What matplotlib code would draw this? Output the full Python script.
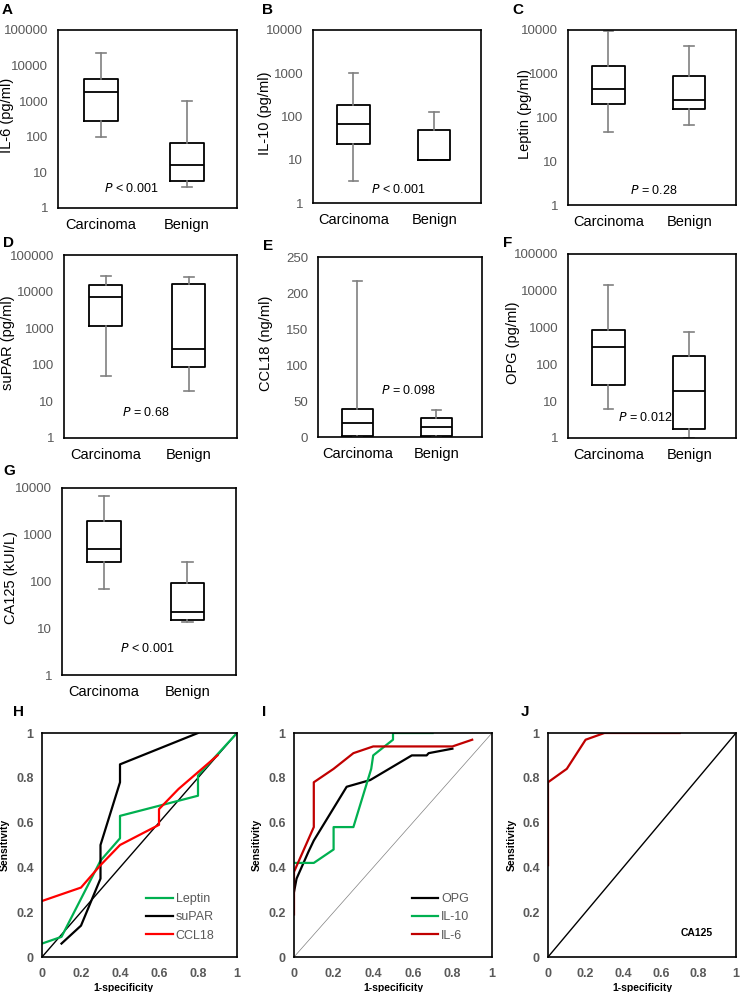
import matplotlib
matplotlib.use("Agg")
import matplotlib.pyplot as plt
from matplotlib.ticker import FixedLocator, FixedFormatter

plt.rcParams['font.family'] = ['Liberation Sans', 'DejaVu Sans']

W, H = 740, 992
GRAY = '#595959'

groups = ['Carcinoma', 'Benign']

# box plot summaries: (whisker low, q1, median, q3, whisker high) per group
il6 = [(100, 280, 1800, 4200, 22000), (3.8, 5.8, 16, 65, 1000)]
il10 = [(3.3, 23, 66, 185, 1000), (10, 10, 10, 50, 125)]
leptin = [(47, 200, 455, 1500, 9600), (69, 154, 250, 910, 4400)]
supar = [(51, 1130, 6900, 15000, 26000), (19, 88, 274, 15800, 24600)]
ccl18 = [(0, 1.8, 18.9, 38.7, 216.8), (0, 1.0, 13.4, 25.8, 37.4)]
opg = [(6.3, 27, 296, 860, 14700), (1, 1.76, 18.6, 166, 746)]
ca125 = [(68, 255, 500, 1940, 6600), (13.5, 15, 22.4, 93, 255)]

# ROC curves (1-specificity, sensitivity)
leptin_fpr = [0, 0.1, 0.3, 0.4, 0.4, 0.8, 0.8, 1.0]
leptin_tpr = [0.06, 0.09, 0.43, 0.53, 0.63, 0.72, 0.81, 1.0]
supar_fpr = [0.1, 0.2, 0.3, 0.3, 0.4, 0.4, 0.8]
supar_tpr = [0.06, 0.14, 0.35, 0.5, 0.78, 0.86, 1.0]
ccl18_fpr = [0, 0.2, 0.3, 0.4, 0.6, 0.6, 0.7, 0.9]
ccl18_tpr = [0.25, 0.31, 0.41, 0.5, 0.59, 0.66, 0.75, 0.9]

opg_fpr = [0, 0.013, 0.073, 0.1, 0.266, 0.385, 0.595, 0.67, 0.68, 0.8]
opg_tpr = [0.29, 0.35, 0.47, 0.52, 0.76, 0.79, 0.9, 0.9, 0.91, 0.93]
il10_fpr = [0, 0.1, 0.2, 0.2, 0.3, 0.39, 0.4, 0.5, 0.5, 0.7]
il10_tpr = [0.42, 0.42, 0.48, 0.58, 0.58, 0.84, 0.9, 0.97, 1.0, 1.0]
il6_fpr = [0, 0, 0.1, 0.1, 0.2, 0.3, 0.4, 0.8, 0.9]
il6_tpr = [0.19, 0.38, 0.58, 0.78, 0.84, 0.91, 0.94, 0.94, 0.97]

ca125_fpr = [0, 0, 0.1, 0.2, 0.3, 0.7]
ca125_tpr = [0.41, 0.78, 0.84, 0.97, 1.0, 1.0]

diag_x = [0, 1]
diag_y = [0, 1]


def px_axes(fig, left, top, right, bottom):
    # axes from pixel box of the reference
    return fig.add_axes([left / W, 1 - bottom / H, (right - left) / W, (bottom - top) / H])


def letter(fig, x, y, s):
    fig.text(x / W, 1 - y / H, s, fontsize=11, fontweight='bold', va='top', ha='left')


def box_panel(ax, data, ylabel, pval_sign, pval, ptxt_xy, ylab_x, log=True, top=None):
    stats = []
    for lo, q1, med, q3, hi in data:
        stats.append(dict(whislo=lo, q1=q1, med=med, q3=q3, whishi=hi, fliers=[]))
    ax.bxp(stats, positions=[1, 2], widths=0.4, showfliers=False,
           boxprops=dict(color='black', linewidth=1.3),
           medianprops=dict(color='black', linewidth=1.3),
           whiskerprops=dict(color='#808080', linewidth=1.2),
           capprops=dict(color='#808080', linewidth=1.2),
           capwidths=0.12)
    ax.set_xlim(0.5, 2.58)
    if log:
        ax.set_yscale('log')
        ticks = [10 ** i for i in range(0, len(str(top)))]
        ax.set_ylim(1, top)
        ax.yaxis.set_major_locator(FixedLocator(ticks))
        ax.yaxis.set_major_formatter(FixedFormatter([str(t) for t in ticks]))
        ax.yaxis.set_minor_locator(FixedLocator([]))
    else:
        ax.set_ylim(0, top)
        ax.set_yticks([0, 50, 100, 150, 200, 250])
    ax.set_xticks([1, 2])
    ax.set_xticklabels(groups, fontsize=10.5)
    ax.tick_params(axis='y', length=0, pad=7, labelsize=9.5, labelcolor=GRAY)
    ax.tick_params(axis='x', length=0, pad=7)
    for sp in ax.spines.values():
        sp.set_linewidth(1.2)
    ax.set_ylabel(ylabel, fontsize=10.5)
    ax.yaxis.set_label_coords(ylab_x, 0.52)
    ax.text(ptxt_xy[0], ptxt_xy[1], r'$\it{P}$' + f' {pval_sign} {pval}',
            transform=ax.transAxes, ha='center', va='center', fontsize=9)


def roc_panel(ax, curves, diag_color, diag_lw, xlab_x=0.5):
    ax.plot(diag_x, diag_y, color=diag_color, lw=diag_lw)
    for fx, ty, col, lab in curves:
        ax.plot(fx, ty, color=col, lw=1.6, label=lab)
    ax.set_xlim(0, 1)
    ax.set_ylim(0, 1)
    ticks = [0, 0.2, 0.4, 0.6, 0.8, 1]
    labels = ['0', '0.2', '0.4', '0.6', '0.8', '1']
    ax.set_xticks(ticks)
    ax.set_xticklabels(labels)
    ax.set_yticks(ticks)
    ax.set_yticklabels(labels)
    ax.tick_params(length=0, labelsize=9, labelcolor=GRAY, pad=6)
    ax.tick_params(axis='x', pad=8)
    for lab in ax.get_xticklabels() + ax.get_yticklabels():
        lab.set_fontweight('bold')
    for sp in ax.spines.values():
        sp.set_linewidth(1.2)
    ax.set_ylabel('Sensitivity', fontsize=7.5, fontweight='bold')
    ax.yaxis.set_label_coords(-0.165, 0.5)
    ax.set_xlabel('1-specificity', fontsize=7.5, fontweight='bold')
    ax.xaxis.set_label_coords(xlab_x, -0.115)


def roc_legend(ax):
    ax.legend(loc='lower right', bbox_to_anchor=(0.93, 0.03), frameon=False, fontsize=9,
              labelcolor=GRAY, handlelength=2.1, handletextpad=0.25, labelspacing=0.5,
              borderpad=0.2)


fig = plt.figure(figsize=(W / 100, H / 100), dpi=100)

# box plots
ax = px_axes(fig, 58, 30, 237, 208)
box_panel(ax, il6, 'IL-6 (pg/ml)', '<', '0.001', (0.41, 0.11), -0.246, top=100000)
letter(fig, 2, 3, 'A')

ax = px_axes(fig, 313, 30, 481, 203)
box_panel(ax, il10, 'IL-10 (pg/ml)', '<', '0.001', (0.51, 0.08), -0.244, top=10000)
letter(fig, 262, 3, 'B')

ax = px_axes(fig, 568, 30, 736, 205)
box_panel(ax, leptin, 'Leptin (pg/ml)', '=', '0.28', (0.51, 0.08), -0.214, top=10000)
letter(fig, 512, 3, 'C')

ax = px_axes(fig, 64, 255, 237, 438)
box_panel(ax, supar, 'suPAR (pg/ml)', '=', '0.68', (0.47, 0.14), -0.283, top=100000)
letter(fig, 3, 236, 'D')

ax = px_axes(fig, 318, 257, 482, 437)
box_panel(ax, ccl18, 'CCL18 (ng/ml)', '=', '0.098', (0.55, 0.26), -0.274, log=False, top=250)
letter(fig, 263, 239, 'E')

ax = px_axes(fig, 568, 254, 736, 438)
box_panel(ax, opg, 'OPG (pg/ml)', '=', '0.012', (0.46, 0.11), -0.286, top=100000)
letter(fig, 503, 236, 'F')

ax = px_axes(fig, 62, 488, 236, 675)
box_panel(ax, ca125, 'CA125 (kUI/L)', '<', '0.001', (0.49, 0.14), -0.253, top=10000)
letter(fig, 3, 464, 'G')

# ROC curves
ax = px_axes(fig, 42, 733, 237, 957)
roc_panel(ax, [(leptin_fpr, leptin_tpr, '#00b050', 'Leptin'),
               (supar_fpr, supar_tpr, 'black', 'suPAR'),
               (ccl18_fpr, ccl18_tpr, '#ff0000', 'CCL18')],
          'black', 1.0, xlab_x=0.42)
roc_legend(ax)
letter(fig, 13, 705, 'H')

ax = px_axes(fig, 294, 733, 492, 957)
roc_panel(ax, [(opg_fpr, opg_tpr, 'black', 'OPG'),
               (il10_fpr, il10_tpr, '#00b050', 'IL-10'),
               (il6_fpr, il6_tpr, '#c00000', 'IL-6')],
          '#808080', 0.5)
roc_legend(ax)
letter(fig, 262, 705, 'I')

ax = px_axes(fig, 548, 733, 736, 957)
roc_panel(ax, [(ca125_fpr, ca125_tpr, '#c00000', None)], 'black', 1.0)
ax.text(0.79, 0.105, 'CA125', transform=ax.transAxes, fontsize=7.5, fontweight='bold',
        ha='center', va='center')
letter(fig, 521, 705, 'J')

fig.savefig('out.png', dpi=100)
